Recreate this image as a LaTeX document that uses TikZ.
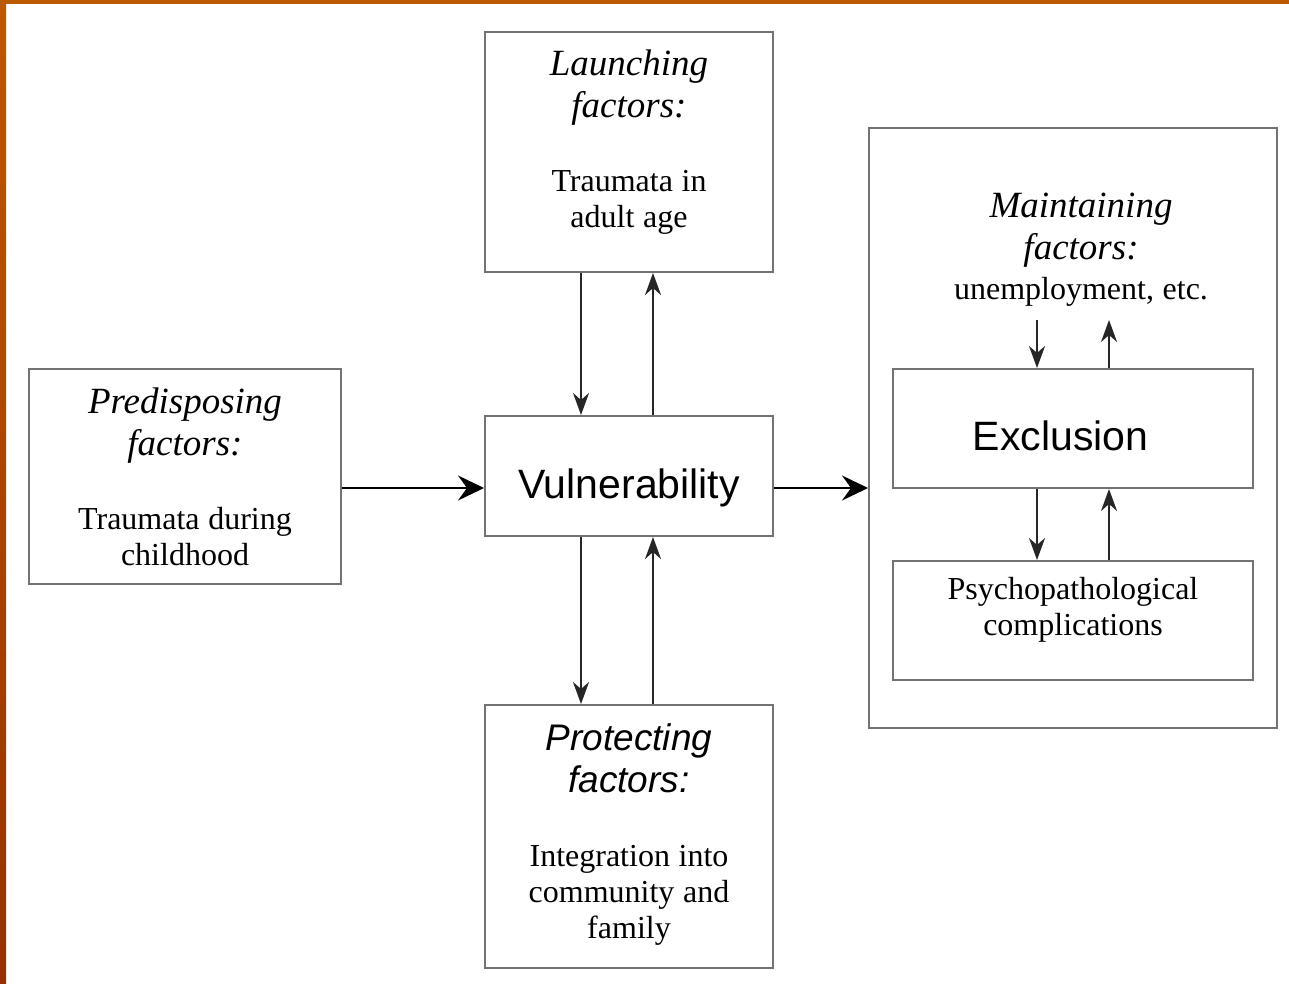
\documentclass[tikz,border=0pt]{standalone}
\usepackage{fontspec}
\setmainfont{Liberation Serif}
\setsansfont{Liberation Sans}
\usetikzlibrary{arrows.meta}

\definecolor{slideorange}{RGB}{187,90,0}
\definecolor{slidebrown}{RGB}{150,50,0}
\definecolor{boxgray}{RGB}{115,115,115}

\newcommand{\headfont}{\fontsize{37}{42}\selectfont\itshape\spaceskip=.27em\xspaceskip=.27em}
\newcommand{\bodyfont}{\fontsize{32}{36}\selectfont\spaceskip=.27em\xspaceskip=.27em}
\newcommand{\bigsans}{\fontsize{41}{49}\selectfont\sffamily}

\begin{document}
\begin{tikzpicture}[x=1pt, y=-1pt,
    box/.style={draw=boxgray, line width=2pt, inner sep=0pt, align=center},
    harrow/.style={line width=2pt, -{Stealth[length=26pt, width=25pt, inset=9pt]}},
    varrow/.style={draw=black!85, line width=2pt, -{Stealth[length=22pt, width=16pt, inset=7pt]}}]
    \fill[white] (0,0) rectangle (1289,983);
    \fill[slideorange] (0,0) rectangle (1289,4);
    \shade[top color=slideorange, bottom color=slidebrown] (0,0) rectangle (6,983);

    \node[box, minimum width=288pt, minimum height=240pt, text width=280pt,
      text height=0pt, text depth=154pt] (launch) at (629,152)
      {{\headfont Launching\\factors:\par}\vskip38pt
       {\bodyfont Traumata in\\adult age\par}};
    \node[box, minimum width=312pt, minimum height=215pt, text width=300pt,
      text height=0pt, text depth=126pt] (predis) at (185,476)
      {{\headfont Predisposing\\factors:\par}\vskip38pt
       {\bodyfont Traumata during\\childhood\par}};
    \node[box, minimum width=288pt, minimum height=120pt,
      text height=44pt, text depth=0pt] (vuln) at (629,476)
      {\bigsans Vulnerability};
    \node[box, minimum width=288pt, minimum height=263pt, text width=280pt,
      text height=0pt, text depth=173pt] (protect) at (629,836.5)
      {{\headfont\sffamily Protecting\\factors:\par}\vskip38pt
       {\bodyfont Integration into\\community and\\family\par}};

    \node[box, minimum width=408pt, minimum height=600pt] (outer) at (1073,428) {};
    \node[text width=380pt, align=center, inner sep=0pt,
      text height=0pt, text depth=100pt] (maintext) at (1081,267)
      {{\headfont Maintaining\\factors:\par}\vskip4pt
       {\bodyfont unemployment, etc.\par}};
    \node[box, minimum width=360pt, minimum height=119pt,
      text height=43pt, text depth=0pt] (excl) at (1073,428.5)
      {\bigsans\hspace*{-25pt}Exclusion};
    \node[box, minimum width=360pt, minimum height=119pt, text width=350pt,
      text height=0pt, text depth=43pt] (psych) at (1073,620.5)
      {\bodyfont Psychopathological\\complications\par};
    \coordinate (mtop) at (1073,320);

    \coordinate (vin) at ([yshift=-12pt]predis.east);
    \coordinate (vout) at ([yshift=-12pt]vuln.east);
    \draw[harrow] (vin) -- (vin -| vuln.west);
    \draw[harrow] (vout) -- (vout -| outer.west);

    \draw[varrow] ([xshift=-48pt]launch.south) -- ([xshift=-48pt]vuln.north);
    \draw[varrow] ([xshift=24pt]vuln.north) -- ([xshift=24pt]launch.south);
    \draw[varrow] ([xshift=-48pt]vuln.south) -- ([xshift=-48pt]protect.north);
    \draw[varrow] ([xshift=24pt]protect.north) -- ([xshift=24pt]vuln.south);

    \draw[varrow] ([xshift=-36pt]mtop) -- ([xshift=-36pt]excl.north);
    \draw[varrow] ([xshift=36pt]excl.north) -- ([xshift=36pt]mtop);
    \draw[varrow] ([xshift=-36pt]excl.south) -- ([xshift=-36pt]psych.north);
    \draw[varrow] ([xshift=36pt]psych.north) -- ([xshift=36pt]excl.south);
\end{tikzpicture}
\end{document}
